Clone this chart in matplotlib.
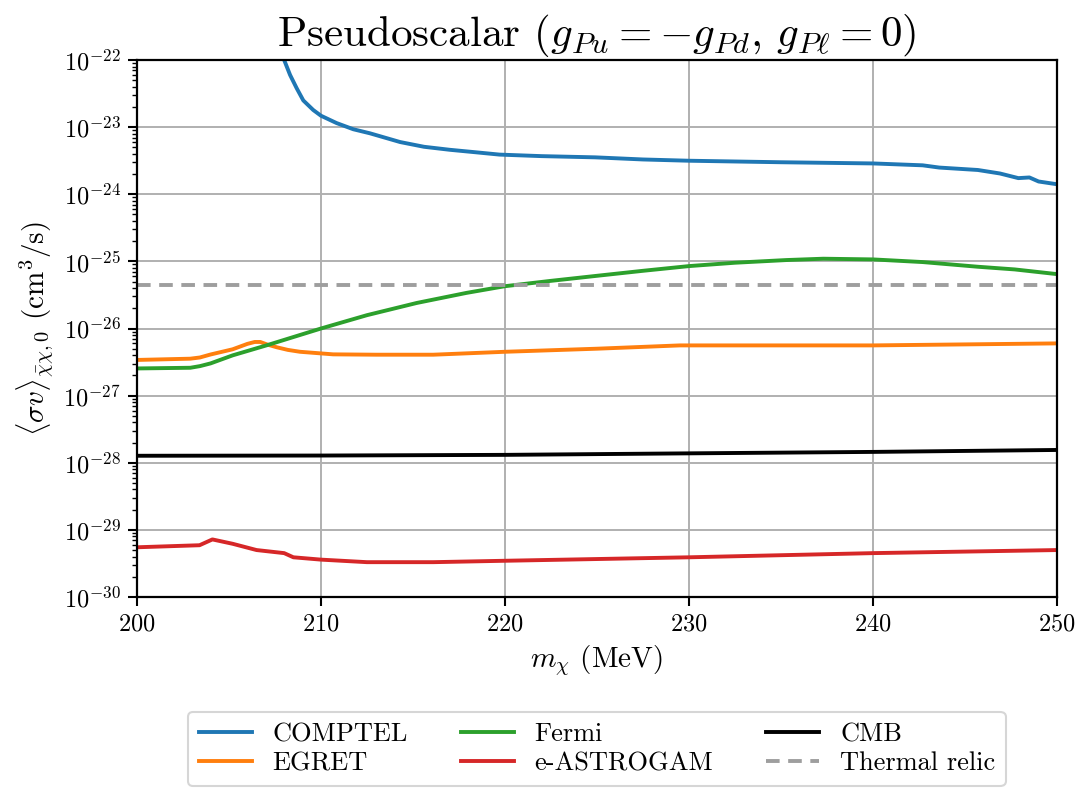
import matplotlib
matplotlib.use("Agg")
import matplotlib.pyplot as plt
from matplotlib.ticker import LogLocator, NullFormatter

plt.rcParams["font.family"] = "serif"
plt.rcParams["font.serif"] = ["cmr10"]
plt.rcParams["mathtext.fontset"] = "cm"
plt.rcParams["axes.formatter.use_mathtext"] = True
plt.rcParams["axes.unicode_minus"] = False

# Dark-matter mass grid (MeV) and annihilation cross-section limits (cm^3/s)
comptel_m = [207.7, 208.0, 208.32, 208.68, 209.04, 209.58, 210.0, 210.85, 211.76,
             212.66, 214.3, 215.6, 217.0, 218.5, 219.7, 222.0, 224.9, 227.5, 230.0,
             235.0, 240.0, 242.7, 243.6, 245.7, 246.9, 247.9, 248.5, 249.0, 250.0]
comptel_sv = [1.6e-22, 1.0e-22, 6.0e-23, 3.8e-23, 2.5e-23, 1.8e-23, 1.48e-23, 1.15e-23,
              9.3e-24, 8.1e-24, 6.0e-24, 5.1e-24, 4.6e-24, 4.2e-24, 3.9e-24, 3.7e-24,
              3.55e-24, 3.3e-24, 3.16e-24, 3.0e-24, 2.88e-24, 2.7e-24, 2.5e-24,
              2.3e-24, 2.04e-24, 1.74e-24, 1.78e-24, 1.55e-24, 1.41e-24]

egret_m = [200.0, 202.9, 203.42, 204.0, 205.2, 206.0, 206.4, 206.7, 207.1, 207.6,
           208.2, 208.86, 210.66, 213.0, 216.1, 220.0, 225.0, 229.5, 235.0, 240.0,
           250.0]
egret_sv = [3.4e-27, 3.55e-27, 3.7e-27, 4.1e-27, 4.9e-27, 5.9e-27, 6.3e-27, 6.3e-27,
            5.75e-27, 5.25e-27, 4.8e-27, 4.5e-27, 4.12e-27, 4.07e-27, 4.07e-27,
            4.5e-27, 5.0e-27, 5.6e-27, 5.6e-27, 5.6e-27, 6.0e-27]

fermi_m = [200.0, 202.9, 203.42, 204.0, 205.2, 207.05, 210.0, 212.5, 215.2, 217.9,
           220.0, 222.5, 225.0, 227.5, 230.0, 232.5, 235.3, 237.3, 240.0, 242.7,
           245.7, 247.7, 250.0]
fermi_sv = [2.54e-27, 2.6e-27, 2.75e-27, 3.02e-27, 3.98e-27, 5.62e-27, 1.0e-26,
            1.58e-26, 2.4e-26, 3.39e-26, 4.27e-26, 5.13e-26, 6.1e-26, 7.24e-26,
            8.51e-26, 9.55e-26, 1.047e-25, 1.096e-25, 1.07e-25, 9.77e-26, 8.32e-26,
            7.59e-26, 6.46e-26]

astrogam_m = [200.0, 203.4, 204.1, 205.2, 206.5, 208.0, 208.5, 210.0, 212.5, 216.1,
              219.7, 230.0, 240.0, 250.0]
astrogam_sv = [5.5e-30, 5.9e-30, 7.2e-30, 6.2e-30, 5.0e-30, 4.5e-30, 3.9e-30, 3.6e-30,
               3.3e-30, 3.3e-30, 3.45e-30, 3.9e-30, 4.5e-30, 5.0e-30]

cmb_m = [200.0, 210.0, 220.0, 230.0, 240.0, 250.0]
cmb_sv = [1.27e-28, 1.28e-28, 1.31e-28, 1.38e-28, 1.45e-28, 1.55e-28]

thermal_relic = 4.5e-26

fig = plt.figure(figsize=(10.81, 7.91), dpi=100)
ax = fig.add_axes([0.1267, 0.2453, 0.8511, 0.6788])

lw = 2.8
ax.plot(comptel_m, comptel_sv, color="#1f77b4", lw=lw, label="COMPTEL")
ax.plot(egret_m, egret_sv, color="#ff7f0e", lw=lw, label="EGRET")
ax.plot(fermi_m, fermi_sv, color="#2ca02c", lw=lw, label="Fermi")
ax.plot(astrogam_m, astrogam_sv, color="#d62728", lw=lw, label="e-ASTROGAM")
ax.plot(cmb_m, cmb_sv, color="black", lw=lw, label="CMB")
ax.axhline(thermal_relic, color="#9e9e9e", lw=lw, ls=(0, (3.5, 2.2)), label="Thermal relic")

ax.set_yscale("log")
ax.set_xlim(200, 250)
ax.set_ylim(1e-30, 1e-22)
ax.yaxis.set_major_locator(LogLocator(base=10, numticks=20))
ax.yaxis.set_minor_locator(LogLocator(base=10, subs=range(2, 10), numticks=20))
ax.yaxis.set_minor_formatter(NullFormatter())
ax.grid(True, which="major", color="#b0b0b0", lw=1.4)
ax.set_axisbelow(True)

for s in ax.spines.values():
    s.set_linewidth(1.6)
ax.tick_params(which="major", length=6.7, width=1.5, labelsize=17.5, pad=5)
ax.tick_params(which="minor", length=3.6, width=1.0)

ax.set_xlabel(r"$m_\chi$ (MeV)", fontsize=21, labelpad=6)
ax.set_ylabel(r"$\langle\sigma v\rangle_{\bar{\chi}\chi,0}$ (cm$^3$/s)", fontsize=21, labelpad=6)
ax.set_title(r"Pseudoscalar ($g_{Pu}=-g_{Pd},\, g_{P\ell}=0$)", fontsize=31, pad=10)

leg = ax.legend(loc="upper center", bbox_to_anchor=(0.5, -0.2142), borderaxespad=0,
                ncol=3, fontsize=19, frameon=True, fancybox=True, handlelength=2.0,
                columnspacing=2.0, labelspacing=0.2)
leg.get_frame().set_linewidth(1.5)
leg.get_frame().set_edgecolor("#cccccc")

fig.savefig("out.png", dpi=100)
